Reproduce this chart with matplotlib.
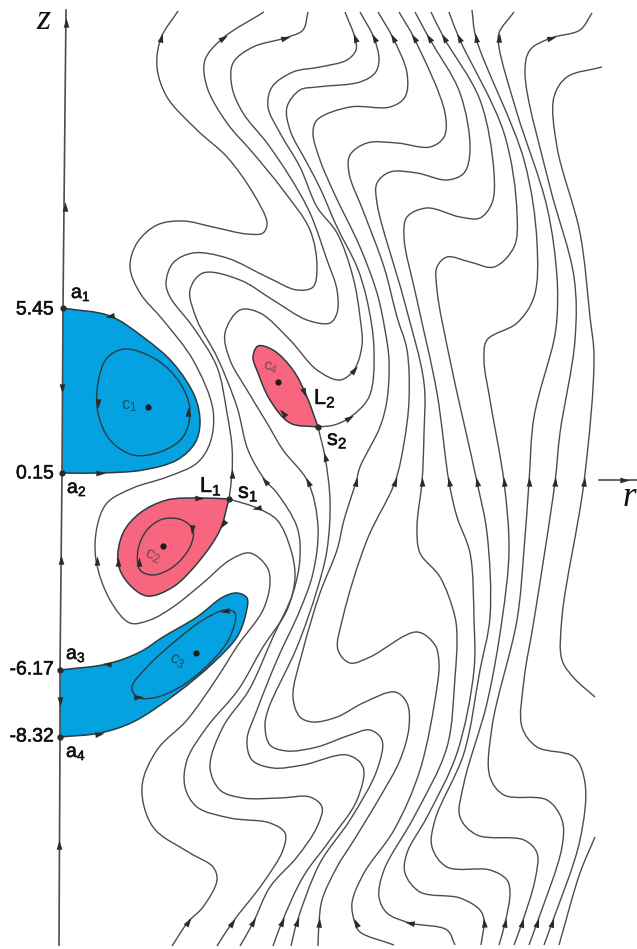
import matplotlib
matplotlib.use("Agg")
import matplotlib.pyplot as plt
import matplotlib.patheffects as pe
from matplotlib.path import Path
from matplotlib.patches import PathPatch
from matplotlib.markers import MarkerStyle
from matplotlib.transforms import Affine2D

plt.rcParams['font.family'] = ['Liberation Sans', 'DejaVu Sans']
plt.rcParams['mathtext.fontset'] = 'custom'
plt.rcParams['mathtext.rm'] = 'Liberation Sans'
plt.rcParams['mathtext.default'] = 'regular'

axis_line = [(66, 10), (63, 307), (62, 473), (60, 670), (60, 737), (59, 945)]

line_1 = [(178, 11), (161, 38), (157, 67), (167, 97), (197, 130), (227, 157), (253, 193), (267, 223), (263, 233),
          (247, 234), (213, 227), (183, 221), (157, 225), (137, 243), (130, 267), (140, 293), (163, 320), (193, 360),
          (213, 410), (210, 443), (197, 463), (167, 477), (133, 488), (107, 503), (97, 527), (96, 560), (110, 600),
          (130, 623), (150, 620), (173, 607), (203, 583), (230, 560), (250, 553), (267, 567), (270, 583), (263, 610),
          (238, 645), (217, 678), (187, 720), (157, 750), (142, 787), (153, 827), (190, 853), (213, 867), (217, 880),
          (203, 907), (188, 922), (172, 946)]
line_2 = [(264, 12), (223, 38), (205, 60), (207, 87), (227, 123), (253, 153), (283, 190), (310, 230), (317, 267),
          (313, 287), (297, 290), (267, 277), (227, 258), (193, 253), (173, 263), (166, 283), (170, 297), (193, 327),
          (217, 367), (227, 413), (232, 447), (232, 473), (229, 499)]
line_3 = [(229, 499), (257, 508), (277, 520), (290, 547), (295, 577), (287, 610), (263, 647), (238, 690), (207, 727),
          (187, 760), (185, 787), (197, 807), (230, 818), (270, 823), (285, 833), (283, 850), (263, 883), (232, 923),
          (217, 946)]
line_4 = [(308, 12), (303, 30), (285, 38), (253, 47), (233, 63), (232, 87), (243, 113), (267, 143), (290, 177),
          (310, 213), (327, 260), (337, 290), (337, 313), (330, 323), (307, 320), (273, 300), (240, 280), (203, 273),
          (190, 290), (197, 320), (217, 357), (237, 407), (248, 450), (265, 480), (277, 493), (297, 527), (300, 557),
          (293, 593), (273, 637), (249, 690), (223, 727), (210, 767), (220, 790), (243, 798), (280, 798), (310, 797),
          (322, 807), (317, 827), (297, 857), (270, 887), (253, 923), (240, 946)]
line_5 = [(345, 12), (355, 38), (356, 50), (347, 60), (320, 67), (293, 72), (272, 87), (268, 107), (280, 133),
          (300, 167), (317, 207), (337, 233), (353, 277), (360, 317), (362, 345), (354, 370), (340, 380), (317, 370),
          (290, 340), (260, 313), (240, 310), (225, 333), (230, 360), (247, 390), (267, 423), (283, 450), (308, 482),
          (318, 527), (313, 573), (300, 610), (277, 660), (257, 710), (247, 740), (252, 760), (273, 768), (303, 765),
          (347, 755), (363, 767), (357, 800), (330, 840), (303, 877), (282, 922), (273, 946)]
line_6 = [(360, 12), (374, 38), (379, 60), (375, 73), (360, 82), (317, 87), (300, 90), (287, 107), (290, 130),
          (307, 163), (320, 188), (337, 227), (357, 267), (367, 300), (374, 350), (369, 397), (349, 418), (334, 425),
          (318, 427)]
line_7 = [(318, 427), (325, 457), (330, 500), (327, 550), (317, 590), (297, 647), (268, 710), (265, 727), (270, 745),
          (287, 751), (317, 747), (350, 735), (370, 730), (382, 740), (377, 770), (350, 820), (320, 863), (297, 922),
          (291, 946)]
line_8 = [(378, 12), (393, 38), (407, 73), (405, 97), (390, 107), (350, 107), (317, 120), (313, 133), (320, 160),
          (334, 193), (360, 247), (377, 293), (385, 330), (389, 360), (387, 400), (380, 427), (360, 467), (356, 482),
          (344, 520), (337, 550), (320, 593), (303, 650), (293, 697), (300, 717), (313, 722), (337, 717), (363, 703),
          (395, 692), (407, 703), (409, 727), (400, 760), (380, 797), (354, 840), (337, 867), (322, 900), (319, 923),
          (318, 946)]
line_9 = [(399, 12), (414, 38), (445, 113), (444, 137), (430, 147), (397, 143), (367, 143), (350, 155), (349, 173),
          (364, 213), (384, 267), (397, 317), (407, 350), (409, 400), (404, 443), (395, 482), (367, 540), (343, 617),
          (338, 650), (350, 663), (370, 657), (417, 632), (435, 645), (439, 663), (437, 687), (420, 770), (394, 830),
          (364, 873), (352, 903), (355, 923), (360, 932), (394, 945)]
line_10 = [(415, 12), (429, 38), (460, 93), (470, 150), (464, 173), (447, 180), (417, 173), (390, 172), (377, 183),
           (377, 203), (404, 300), (424, 383), (424, 433), (422, 482), (417, 527), (420, 553), (440, 577), (455, 617),
           (457, 640), (455, 677), (447, 747), (414, 817), (384, 870), (379, 897), (387, 913), (410, 923), (447, 930),
           (455, 945)]
line_11 = [(431, 12), (444, 38), (480, 100), (494, 173), (492, 203), (480, 218), (460, 217), (427, 208), (407, 217),
           (404, 237), (417, 300), (437, 393), (449, 482), (457, 517), (470, 553), (474, 620), (474, 670), (457, 753),
           (427, 817), (407, 853), (405, 873), (420, 892), (460, 898), (480, 910), (484, 920), (481, 945)]
line_12 = [(449, 12), (459, 38), (504, 133), (517, 213), (514, 247), (494, 267), (470, 262), (447, 257), (437, 267),
           (437, 290), (450, 360), (477, 482), (487, 533), (490, 617), (480, 670), (464, 753), (435, 820), (432, 847),
           (447, 867), (490, 870), (507, 880), (510, 893), (505, 923), (499, 945)]
line_13 = [(472, 10), (476, 38), (524, 160), (537, 243), (534, 297), (517, 323), (487, 340), (484, 360), (490, 400),
           (504, 482), (509, 550), (502, 620), (487, 703), (464, 783), (460, 817), (477, 835), (524, 840), (537, 853),
           (535, 880), (522, 923), (514, 945)]
line_14 = [(514, 12), (499, 33), (499, 47), (517, 113), (547, 207), (557, 277), (557, 317), (554, 340), (534, 417),
           (529, 482), (524, 550), (517, 620), (492, 727), (490, 777), (504, 795), (547, 800), (562, 820), (562, 847),
           (537, 923), (529, 945)]
line_15 = [(592, 13), (580, 30), (551, 38), (530, 50), (525, 73), (550, 187), (574, 277), (575, 340), (560, 433),
           (555, 482), (534, 620), (524, 680), (522, 727), (537, 747), (574, 757), (585, 783), (580, 840), (552, 923),
           (544, 945)]
line_16 = [(602, 67), (567, 77), (554, 97), (557, 147), (580, 233), (590, 317), (594, 357), (584, 482), (562, 617),
           (562, 660), (574, 678), (595, 697)]
line_17 = [(595, 837), (580, 873), (559, 945)]
streamlines = [line_1, line_2, line_3, line_4, line_5, line_6, line_7, line_8, line_9, line_10, line_11, line_12,
               line_13, line_14, line_15, line_16, line_17]

blue_1 = [(62, 308), (110, 316), (143, 337), (173, 363), (195, 397), (200, 423), (195, 443), (177, 460), (143, 470),
          (100, 473), (62, 473)]
blue_3 = [(60, 670), (107, 664), (140, 652), (163, 637), (197, 617), (223, 597), (237, 593), (247, 598), (245, 617),
          (237, 637), (213, 663), (177, 693), (133, 722), (100, 733), (60, 737)]
red_2 = [(229, 499), (200, 498), (167, 500), (140, 513), (123, 533), (118, 563), (128, 583), (147, 596), (173, 587),
         (200, 560), (220, 530), (229, 499)]
red_4 = [(318, 427), (290, 423), (270, 400), (258, 373), (253, 357), (258, 346), (273, 350), (293, 370), (307, 397),
         (318, 427)]

inner_1 = [(125, 349), (107, 358), (98, 383), (98, 413), (110, 440), (133, 455), (160, 452), (183, 437), (190, 410),
           (180, 383), (157, 360)]
inner_2 = [(163, 519), (147, 530), (138, 550), (140, 570), (153, 575), (173, 567), (190, 547), (193, 530), (182, 520)]
inner_3 = [(225, 610), (235, 613), (230, 637), (210, 663), (180, 687), (153, 698), (137, 697), (132, 687), (147, 667),
           (173, 643), (203, 620)]

# x, y, heading (degrees anticlockwise from straight up)
arrows = [(66, 23, 0), (65, 207, 0), (62, 388, 180), (61, 560, 0), (60, 701, 180), (59, 845, 0),
          (161, 38, -15), (223, 38, -57), (285, 38, -75), (355, 38, 20), (374, 38, 28), (393, 38, 28), (414, 38, 32),
          (429, 38, 32), (444, 38, 30), (459, 38, 25), (476, 38, 10), (499, 38, -5), (551, 38, -75),
          (265, 481, 40), (308, 482, 25), (356, 482, -15), (395, 482, -20), (422, 482, 0), (449, 482, 10),
          (477, 482, 12), (504, 482, 5), (529, 482, 0), (555, 482, -5), (584, 482, -8),
          (232, 474, 0), (325, 457, 15), (257, 508, 100), (349, 418, -60), (354, 370, -40), (97, 561, 0),
          (188, 922, -35), (232, 923, -35), (253, 922, -30), (282, 922, -25), (297, 922, -20), (319, 923, -5),
          (356, 923, 25), (410, 923, 80), (484, 923, 5), (505, 923, -12), (522, 923, -15), (537, 923, -18),
          (552, 923, -18),
          (110, 316, 100), (100, 473, -90), (98, 403, 180), (188, 412, 0),
          (199, 498, -90), (223, 524, 143), (118, 562, 0), (192, 529, 175), (139, 562, 0),
          (107, 664, 85), (99, 734, -80), (225, 611, 100), (138, 697, -85),
          (304, 392, -158), (283, 413, 40), (624, 480, -90)]

node_x = [63, 62, 60, 60, 229, 318]
node_y = [308, 473, 670, 737, 499, 427]
centre_x = [148, 163, 196, 278]
centre_y = [407, 546, 653, 382]

z_values = ['5.45', '0.15', '-6.17', '-8.32']
z_value_y = [310, 474, 670, 737]


def tangent(a, b, c):
    # centripetal catmull-rom tangent at b
    d1 = ((b[0] - a[0]) ** 2 + (b[1] - a[1]) ** 2) ** 0.25
    d2 = ((c[0] - b[0]) ** 2 + (c[1] - b[1]) ** 2) ** 0.25
    if d1 == 0:
        return (c[0] - b[0]) / d2, (c[1] - b[1]) / d2
    if d2 == 0:
        return (b[0] - a[0]) / d1, (b[1] - a[1]) / d1
    tx = (b[0] - a[0]) / d1 - (c[0] - a[0]) / (d1 + d2) + (c[0] - b[0]) / d2
    ty = (b[1] - a[1]) / d1 - (c[1] - a[1]) / (d1 + d2) + (c[1] - b[1]) / d2
    return tx, ty


def smooth_path(pts, closed=False):
    n = len(pts)
    verts = [pts[0]]
    codes = [Path.MOVETO]
    last = n if closed else n - 1
    for i in range(last):
        if closed:
            p0, p1, p2, p3 = pts[(i - 1) % n], pts[i], pts[(i + 1) % n], pts[(i + 2) % n]
        else:
            p0, p1, p2, p3 = pts[max(i - 1, 0)], pts[i], pts[i + 1], pts[min(i + 2, n - 1)]
        d = ((p2[0] - p1[0]) ** 2 + (p2[1] - p1[1]) ** 2) ** 0.25
        t1 = tangent(p0, p1, p2)
        t2 = tangent(p1, p2, p3)
        c1 = (p1[0] + t1[0] * d / 3, p1[1] + t1[1] * d / 3)
        c2 = (p2[0] - t2[0] * d / 3, p2[1] - t2[1] * d / 3)
        verts += [c1, c2, p2]
        codes += [Path.CURVE4, Path.CURVE4, Path.CURVE4]
    return Path(verts, codes)


fig = plt.figure(figsize=(6.37, 9.49), dpi=100)
ax = fig.add_axes([0, 0, 1, 1])
ax.set_xlim(0, 637)
ax.set_ylim(949, 0)
ax.axis('off')

BLUE = '#05a2e2'
RED = '#f7667f'
LINE = '#4d4d4d'
EDGE = '#2e3a40'

for region, colour in [(blue_1, BLUE), (blue_3, BLUE), (red_2, RED), (red_4, RED)]:
    ax.add_patch(PathPatch(smooth_path(region), facecolor=colour, edgecolor=EDGE, lw=1.1, zorder=2))

for inner in [inner_1, inner_2, inner_3]:
    ax.add_patch(PathPatch(smooth_path(inner, closed=True), facecolor='none', edgecolor=EDGE, lw=1.0, zorder=3))

for line in streamlines:
    ax.add_patch(PathPatch(smooth_path(line), facecolor='none', edgecolor=LINE, lw=1.0, zorder=3))

ax.plot([p[0] for p in axis_line], [p[1] for p in axis_line], color=LINE, lw=1.2, zorder=4)
ax.plot([599, 637], [480, 480], color=LINE, lw=1.2, zorder=4)

head = Path([(0, 1.0), (-0.55, -0.8), (0.55, -0.8), (0, 1.0)], closed=True)
for x, y, angle in arrows:
    marker = MarkerStyle(head, transform=Affine2D().rotate_deg(angle))
    ax.plot([x], [y], marker=marker, ms=7.5, color='#2b2b2b', mew=0, zorder=5)

ax.plot(node_x, node_y, 'o', color='#2b2b2b', ms=4.5, mew=0, zorder=5)
ax.plot(centre_x, centre_y, 'o', color='#1c1c1c', ms=4.5, mew=0, zorder=5)

TEXT = '#111111'
bolder = [pe.withStroke(linewidth=0.4, foreground=TEXT)]
for label, y in zip(z_values, z_value_y):
    ax.text(54, y, label, ha='right', va='center', fontsize=14, color=TEXT, path_effects=bolder)

for label, x, y in [('a$_1$', 71, 298), ('a$_2$', 67, 493), ('a$_3$', 66, 659), ('a$_4$', 66, 757)]:
    ax.text(x, y, label, ha='left', va='baseline', fontsize=14, color=TEXT, path_effects=bolder)
for label, x, y in [('L$_1$', 200, 492), ('s$_1$', 238, 498), ('L$_2$', 314, 404), ('s$_2$', 327, 445)]:
    ax.text(x, y, label, ha='left', va='baseline', fontsize=15.5, color=TEXT, path_effects=bolder)

ax.text(121, 409, 'c$_1$', fontsize=12, color='#174f6e', va='baseline')
ax.text(152, 556, 'c$_2$', fontsize=12, color='#7b4450', ha='center', va='center', rotation=-20)
ax.text(177, 661, 'c$_3$', fontsize=12, color='#174f6e', ha='center', va='center', rotation=-25)
ax.text(270, 368, 'c$_4$', fontsize=11, color='#7b4450', ha='center', va='center', rotation=-15)

ax.text(43, 29, 'z', family=['Liberation Serif'], style='italic', fontsize=26, color=TEXT, ha='center', va='baseline')
ax.text(629, 506, 'r', family=['Liberation Serif'], style='italic', fontsize=25, color=TEXT, ha='center', va='baseline')

fig.savefig('out.png', dpi=100)
